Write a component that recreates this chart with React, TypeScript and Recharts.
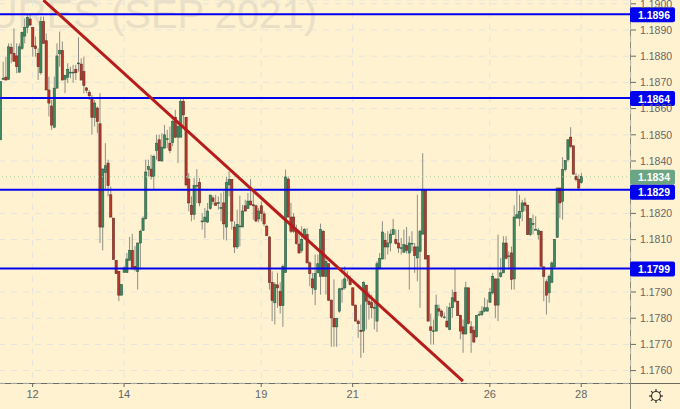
import React from "react";
import {
  Bar,
  CartesianGrid,
  ComposedChart,
  ReferenceLine,
  XAxis,
  YAxis,
} from "recharts";

const opens = [
  1.18481, 1.18712, 1.1872, 1.18712, 1.18834, 1.18811, 1.18801, 1.18739, 1.1883, 1.18877,
  1.1891, 1.18942, 1.1891, 1.18839, 1.18811, 1.18737, 1.18932, 1.18859, 1.18671, 1.1861,
  1.18529, 1.18678, 1.18809, 1.18821, 1.18712, 1.1872, 1.18736, 1.18736, 1.1875, 1.18772,
  1.1877, 1.18741, 1.18679, 1.18661, 1.1864, 1.18567, 1.18602, 1.18542, 1.18148, 1.18356,
  1.18392, 1.18271, 1.18182, 1.18021, 1.17979, 1.17888, 1.17975, 1.17975, 1.18021, 1.18059,
  1.17998, 1.17979, 1.18087, 1.18135, 1.1818, 1.18367, 1.18369, 1.18341, 1.1844, 1.18481,
  1.184, 1.18449, 1.18482, 1.18468, 1.18471, 1.18567, 1.18491, 1.18491, 1.18627, 1.18567,
  1.18331, 1.18231, 1.18196, 1.18304, 1.18318, 1.18168, 1.1817, 1.18167, 1.18219, 1.18259,
  1.1824, 1.18238, 1.18219, 1.1824, 1.18148, 1.18309, 1.18329, 1.18148, 1.18072, 1.1815,
  1.18148, 1.18229, 1.18219, 1.18247, 1.18233, 1.18229, 1.18179, 1.18229, 1.18198, 1.18151,
  1.1811, 1.17937, 1.17859, 1.17927, 1.17902, 1.17848, 1.17975, 1.18331, 1.18186, 1.18186,
  1.18132, 1.18083, 1.18059, 1.18106, 1.18119, 1.18011, 1.1795, 1.17909, 1.17973, 1.1796,
  1.18132, 1.1796, 1.18008, 1.17869, 1.17799, 1.17767, 1.17827, 1.17911, 1.17916, 1.17959,
  1.1795, 1.17916, 1.1785, 1.17789, 1.17754, 1.17751, 1.17926, 1.17865, 1.17859, 1.17838,
  1.17789, 1.17992, 1.18026, 1.18097, 1.18072, 1.18087, 1.18119, 1.181, 1.18087, 1.18067,
  1.18052, 1.18077, 1.18049, 1.18083, 1.18072, 1.1803, 1.18055, 1.18121, 1.1829, 1.18039,
  1.17767, 1.17749, 1.17751, 1.17836, 1.17827, 1.17803, 1.17789, 1.17757, 1.1784, 1.17899,
  1.17865, 1.1781, 1.17767, 1.1774, 1.17916, 1.17767, 1.17754, 1.17729, 1.17813, 1.17814,
  1.17827, 1.17827, 1.17861, 1.17897, 1.1795, 1.1785, 1.1796, 1.17973, 1.18087, 1.18035,
  1.18049, 1.1795, 1.18182, 1.18182, 1.18208, 1.1824, 1.18231, 1.18119, 1.18158, 1.18137,
  1.18119, 1.18132, 1.17996, 1.17939, 1.17897, 1.17937, 1.17996, 1.18109, 1.18297, 1.18246,
  1.18367, 1.18405, 1.18491, 1.18458, 1.18341, 1.18329, 1.18318,
];

const closes = [
  1.18703, 1.18716, 1.18709, 1.18836, 1.18811, 1.18781, 1.1876, 1.18836, 1.18891, 1.1891,
  1.18948, 1.18919, 1.18836, 1.18829, 1.1876, 1.18932, 1.18849, 1.18671, 1.18621, 1.18537,
  1.18678, 1.18801, 1.18821, 1.18709, 1.18727, 1.1875, 1.18739, 1.18739, 1.18737, 1.18774,
  1.18709, 1.18688, 1.1867, 1.18649, 1.18567, 1.18621, 1.18551, 1.18148, 1.18369, 1.18382,
  1.18306, 1.18186, 1.18024, 1.1797, 1.17888, 1.17928, 1.17992, 1.18026, 1.18059, 1.17988,
  1.17988, 1.18087, 1.18132, 1.1818, 1.18358, 1.18379, 1.18341, 1.18417, 1.18468, 1.18401,
  1.18453, 1.185, 1.18485, 1.1844, 1.18551, 1.18491, 1.18532, 1.18627, 1.18576, 1.18309,
  1.1824, 1.18196, 1.18306, 1.18307, 1.1824, 1.18171, 1.18186, 1.18209, 1.1827, 1.18246,
  1.18231, 1.18241, 1.18222, 1.1816, 1.18318, 1.18329, 1.18171, 1.18072, 1.18158, 1.18152,
  1.18209, 1.18209, 1.18247, 1.18233, 1.18229, 1.18171, 1.18209, 1.18199, 1.1816, 1.18115,
  1.17937, 1.17867, 1.17928, 1.17916, 1.17848, 1.17998, 1.18339, 1.18186, 1.18132, 1.18132,
  1.18085, 1.18049, 1.181, 1.18138, 1.18011, 1.1797, 1.17916, 1.1797, 1.18008, 1.18138,
  1.1796, 1.18017, 1.17869, 1.17801, 1.17767, 1.17799, 1.17912, 1.17913, 1.1795, 1.17961,
  1.17928, 1.1785, 1.17789, 1.17779, 1.17749, 1.17937, 1.17865, 1.17852, 1.1784, 1.17841,
  1.18008, 1.18028, 1.18129, 1.18072, 1.18087, 1.18121, 1.18138, 1.18085, 1.18068, 1.18069,
  1.18081, 1.18059, 1.18087, 1.18086, 1.18039, 1.18072, 1.18132, 1.1829, 1.18026, 1.17789,
  1.17754, 1.17752, 1.1785, 1.17827, 1.17808, 1.17805, 1.17767, 1.1784, 1.17878, 1.17865,
  1.1781, 1.17751, 1.1774, 1.17916, 1.1778, 1.17744, 1.17709, 1.1781, 1.17815, 1.17827,
  1.1784, 1.1784, 1.17899, 1.1796, 1.1785, 1.1795, 1.17973, 1.18087, 1.18029, 1.18038,
  1.17948, 1.18186, 1.18195, 1.18208, 1.1824, 1.18231, 1.18119, 1.1818, 1.18161, 1.18139,
  1.18135, 1.17998, 1.1796, 1.17888, 1.1796, 1.18011, 1.181, 1.18297, 1.1824, 1.18367,
  1.18402, 1.18481, 1.18456, 1.1835, 1.18329, 1.18297, 1.18341,
];

const highs = [
  1.18703, 1.18779, 1.18798, 1.18849, 1.18849, 1.18906, 1.18849, 1.18849, 1.18894, 1.18944,
  1.18961, 1.18957, 1.1891, 1.18875, 1.1883, 1.18951, 1.18951, 1.18887, 1.18722, 1.18633,
  1.18722, 1.18849, 1.18894, 1.18856, 1.18729, 1.18773, 1.1876, 1.18767, 1.18767, 1.18872,
  1.18792, 1.18798, 1.18682, 1.18671, 1.18652, 1.18633, 1.18608, 1.18659, 1.18373, 1.18468,
  1.18405, 1.18303, 1.18182, 1.18021, 1.17979, 1.17928, 1.17998, 1.18049, 1.1811, 1.18122,
  1.18075, 1.18087, 1.18138, 1.18189, 1.18405, 1.18405, 1.18424, 1.18424, 1.185, 1.185,
  1.18506, 1.18538, 1.18519, 1.18532, 1.18557, 1.18595, 1.18544, 1.1864, 1.18643, 1.18567,
  1.18354, 1.18265, 1.18335, 1.18369, 1.18335, 1.18201, 1.18221, 1.1824, 1.18271, 1.18268,
  1.18271, 1.18265, 1.18278, 1.18284, 1.18339, 1.1836, 1.18331, 1.1817, 1.18214, 1.18268,
  1.18233, 1.18252, 1.18278, 1.18331, 1.18284, 1.18233, 1.18221, 1.18246, 1.18208, 1.18157,
  1.18113, 1.17979, 1.17937, 1.17973, 1.17937, 1.18005, 1.18367, 1.18341, 1.1824, 1.18201,
  1.18157, 1.18138, 1.18151, 1.18144, 1.18144, 1.18017, 1.17973, 1.18043, 1.18043, 1.18161,
  1.18135, 1.18043, 1.18008, 1.17871, 1.17948, 1.17801, 1.17916, 1.17948, 1.17998, 1.17979,
  1.17963, 1.17916, 1.17852, 1.17795, 1.17852, 1.17941, 1.17926, 1.17903, 1.1789, 1.17871,
  1.18017, 1.18049, 1.1817, 1.18125, 1.18132, 1.18138, 1.18179, 1.18138, 1.18138, 1.18106,
  1.18138, 1.18148, 1.18113, 1.18132, 1.18087, 1.18271, 1.18138, 1.1843, 1.1829, 1.18039,
  1.17818, 1.17795, 1.1789, 1.17852, 1.17833, 1.17821, 1.17846, 1.17859, 1.17909, 1.17992,
  1.17865, 1.17814, 1.17795, 1.17939, 1.17916, 1.17789, 1.1777, 1.17812, 1.17827, 1.17846,
  1.17878, 1.17871, 1.17916, 1.17973, 1.1795, 1.18119, 1.1803, 1.18113, 1.18113, 1.18055,
  1.18074, 1.18231, 1.1829, 1.18271, 1.18252, 1.18259, 1.18233, 1.18182, 1.18195, 1.18189,
  1.18144, 1.18132, 1.17998, 1.17948, 1.17967, 1.18017, 1.18102, 1.18297, 1.18297, 1.18415,
  1.18402, 1.18483, 1.18529, 1.18458, 1.18354, 1.18348, 1.18354,
];

const lows = [
  1.18481, 1.18709, 1.18709, 1.18709, 1.18773, 1.18779, 1.18735, 1.18739, 1.18824, 1.18849,
  1.18887, 1.18915, 1.18798, 1.18798, 1.18709, 1.18729, 1.18849, 1.18671, 1.1857, 1.18519,
  1.18525, 1.18678, 1.1876, 1.18709, 1.18659, 1.18697, 1.18716, 1.18699, 1.18709, 1.18741,
  1.18709, 1.18659, 1.18659, 1.18633, 1.185, 1.18532, 1.18506, 1.18087, 1.18059, 1.1829,
  1.18265, 1.18186, 1.18024, 1.1797, 1.17865, 1.17888, 1.17975, 1.17973, 1.18021, 1.17988,
  1.17979, 1.17909, 1.17986, 1.18135, 1.18176, 1.18341, 1.18329, 1.1829, 1.18405, 1.18398,
  1.18398, 1.18449, 1.18449, 1.1843, 1.18456, 1.18487, 1.18392, 1.18491, 1.18532, 1.18303,
  1.18208, 1.1817, 1.18176, 1.1824, 1.18227, 1.18138, 1.18106, 1.18163, 1.18214, 1.18233,
  1.18231, 1.18214, 1.1817, 1.181, 1.18097, 1.18265, 1.18138, 1.18049, 1.18064, 1.18074,
  1.18148, 1.18208, 1.18217, 1.18229, 1.18176, 1.18166, 1.18166, 1.1817, 1.18151, 1.18113,
  1.17909, 1.17789, 1.17776, 1.1784, 1.17818, 1.17767, 1.17973, 1.18186, 1.18125, 1.18125,
  1.18081, 1.18047, 1.18049, 1.181, 1.18011, 1.17922, 1.1789, 1.1785, 1.17973, 1.1789,
  1.17958, 1.1789, 1.17865, 1.17691, 1.17691, 1.17691, 1.17821, 1.17859, 1.17909, 1.17941,
  1.17926, 1.17846, 1.17789, 1.17725, 1.17649, 1.17668, 1.17757, 1.17795, 1.17801, 1.17757,
  1.17747, 1.17986, 1.18024, 1.18024, 1.18043, 1.18055, 1.18119, 1.18081, 1.18049, 1.18043,
  1.18049, 1.18047, 1.17909, 1.18055, 1.17973, 1.17941, 1.1784, 1.18119, 1.18024, 1.17788,
  1.177, 1.177, 1.17751, 1.17808, 1.17801, 1.17798, 1.17763, 1.17754, 1.17801, 1.17859,
  1.17808, 1.17719, 1.17668, 1.17738, 1.17776, 1.17668, 1.17706, 1.17725, 1.17808, 1.17808,
  1.17823, 1.17827, 1.17859, 1.1789, 1.17801, 1.17789, 1.17954, 1.17973, 1.18024, 1.17986,
  1.17909, 1.17909, 1.18182, 1.18151, 1.1817, 1.18208, 1.18119, 1.18113, 1.18119, 1.18137,
  1.181, 1.17998, 1.17865, 1.17814, 1.17859, 1.17935, 1.17992, 1.18106, 1.18182, 1.18176,
  1.1836, 1.18398, 1.18449, 1.18348, 1.18322, 1.18293, 1.18313,
];

const slotCount = 235;
const dayTicks = [12, 46, 97, 131, 182, 216];
const dayLabels = ["12", "14", "19", "21", "26", "28"];
const priceTicks = [
  1.176, 1.177, 1.178, 1.179, 1.181, 1.182, 1.183 + 0.001, 1.185, 1.186, 1.187, 1.188, 1.189, 1.19,
];
const levels = [1.1896, 1.1864, 1.1829, 1.1799];
const lastPrice = 1.1834;
const trendFrom = { x: 16, y: 1.19014 };
const trendTo = { x: 172, y: 1.1756 };

const data = Array.from({ length: slotCount }, (_, i) => ({
  idx: i,
  open: opens[i],
  close: closes[i],
  high: highs[i],
  low: lows[i],
}));

const Candle = (props: any) => {
  const { x, y, width, height, payload } = props;
  if (payload.high === undefined) return null;
  const perPrice = height / (payload.high - payload.low);
  const cx = x + width / 2;
  const yOpen = y + (payload.high - payload.open) * perPrice;
  const yClose = y + (payload.high - payload.close) * perPrice;
  const up = payload.close >= payload.open;
  return (
    <g>
      <line x1={cx} x2={cx} y1={y} y2={y + height} stroke="#8e8e84" strokeWidth={1} />
      <rect
        x={cx - 1.1}
        y={Math.min(yOpen, yClose)}
        width={2.2}
        height={Math.max(Math.abs(yOpen - yClose), 0.8)}
        fill={up ? "#3f8a62" : "#b5392c"}
        stroke={up ? "#2c5a42" : "#6a2a20"}
        strokeWidth={0.6}
      />
    </g>
  );
};

const PriceBox = ({ viewBox, text, fill, nudge }: any) => {
  const left = viewBox.x + viewBox.width - 1;
  const top = viewBox.y - 7 + nudge;
  return (
    <g>
      <rect x={left} y={top} width={45} height={15} rx={2} fill={fill} />
      <text
        x={left + 24}
        y={top + 11.5}
        textAnchor="middle"
        fill="#ffffff"
        fontSize={10.5}
        fontWeight={700}
        fontFamily="Liberation Sans"
      >
        {text}
      </text>
    </g>
  );
};

const gearTeeth = [0, 45, 90, 135, 180, 225, 270, 315];

export default function App() {
  return (
    <div
      style={{
        position: "absolute",
        left: 0,
        top: 0,
        width: 680,
        height: 409,
        overflow: "hidden",
        background: "#fff2d0",
      }}
    >
      <div
        style={{
          position: "absolute",
          right: 363,
          top: -9,
          whiteSpace: "nowrap",
          fontFamily: "Liberation Sans",
          fontSize: 40,
          lineHeight: "46px",
          color: "#e9dfc6",
        }}
      >
        FUTURES (SEP 2021)
      </div>
      <svg width={680} height={409} style={{ position: "absolute", left: 0, top: 0 }}>
        <line x1={0} x2={680} y1={383.5} y2={383.5} stroke="#6b6b5e" />
        <line x1={630.5} x2={630.5} y1={0} y2={409} stroke="#8a8a7c" />
        <g transform="translate(656,396)" stroke="#333" fill="none">
          <circle r={4.5} strokeWidth={1.2} />
          {gearTeeth.map((a) => (
            <line key={a} x1={4.5} x2={7} transform={`rotate(${a})`} strokeWidth={1.2} />
          ))}
        </g>
      </svg>
      <div style={{ position: "absolute", left: -1, top: 0 }}>
        <ComposedChart
          width={681}
          height={409}
          data={data}
          barCategoryGap={0}
          margin={{ top: 0, right: 0, left: 0, bottom: 0 }}
        >
          <CartesianGrid stroke="#e4e4de" strokeDasharray="6 6" />
          <XAxis
            dataKey="idx"
            ticks={dayTicks}
            interval={0}
            height={26}
            axisLine={false}
            tickSize={4}
            tickMargin={3}
            tickLine={{ stroke: "#6b6b5e" }}
            tick={{ fill: "#666", fontSize: 11, fontFamily: "Liberation Sans" }}
            tickFormatter={(v) => dayLabels[dayTicks.indexOf(v)]}
          />
          <YAxis
            orientation="right"
            width={49}
            domain={[1.175527, 1.190145]}
            ticks={priceTicks}
            interval={0}
            axisLine={false}
            tickSize={5}
            tickMargin={4}
            tickLine={{ stroke: "#6b6b5e" }}
            tick={{ fill: "#666", fontSize: 10.5, fontFamily: "Liberation Sans", textAnchor: "start" }}
            tickFormatter={(v) => v.toFixed(4)}
          />
          <Bar
            dataKey={(d: any) => (d.high === undefined ? undefined : [d.low, d.high])}
            shape={<Candle />}
            isAnimationActive={false}
          />
          <ReferenceLine
            y={lastPrice}
            stroke="#a9cfa4"
            strokeDasharray="1 3"
            label={<PriceBox text="1.1834" fill="#6ba583" nudge={0} />}
          />
          {levels.map((p) => (
            <ReferenceLine
              key={p}
              y={p}
              stroke="#0000f0"
              strokeWidth={2}
              label={<PriceBox text={p.toFixed(4)} fill="#0000f0" nudge={p === 1.1829 ? 2 : 0} />}
            />
          ))}
          <ReferenceLine
            segment={[trendFrom, trendTo]}
            stroke="#b71c1c"
            strokeWidth={3}
          />
        </ComposedChart>
      </div>
    </div>
  );
}
